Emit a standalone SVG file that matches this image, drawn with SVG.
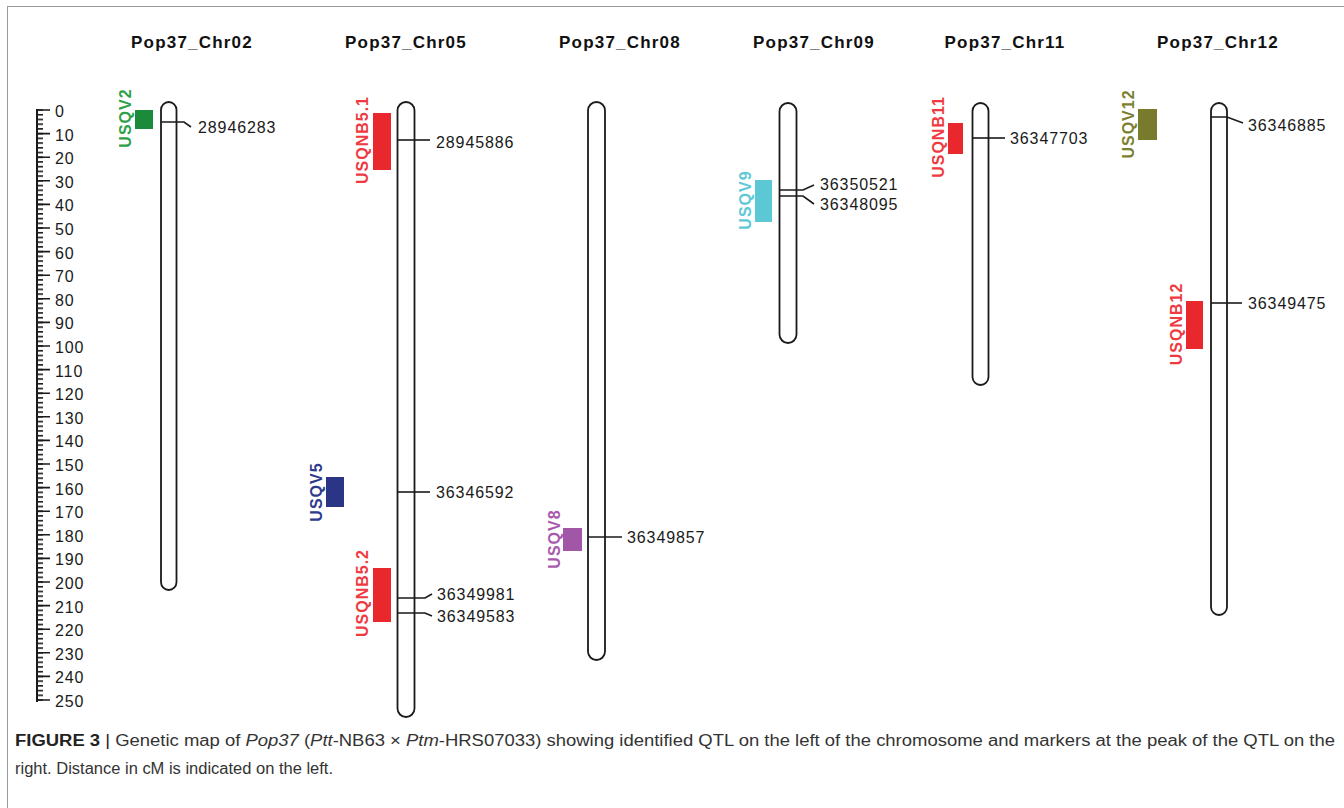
<svg xmlns="http://www.w3.org/2000/svg" width="1344" height="808" viewBox="0 0 1344 808">
<style>
.title{font-family:"Liberation Sans",Arial,sans-serif;font-size:17px;font-weight:bold;fill:#111;letter-spacing:1.2px;text-anchor:middle}
.num{font-family:"Liberation Sans",Arial,sans-serif;font-size:16px;fill:#1a1a1a;letter-spacing:0.9px}
.chr{fill:none;stroke:#1a1a1a;stroke-width:1.8}
.lnk{fill:none;stroke:#1a1a1a;stroke-width:1.6}
.qlab{font-family:"Liberation Sans",Arial,sans-serif;font-size:16px;font-weight:bold;letter-spacing:1px;text-anchor:middle}
.cap{font-family:"Liberation Sans Narrow","Liberation Sans",Arial,sans-serif;font-size:16px;fill:#333}
</style>
<defs>
<pattern id="minor" patternUnits="userSpaceOnUse" x="0" y="109.2" width="10" height="4.72">
<rect x="0" y="0" width="10" height="1.6" fill="#1a1a1a"/>
</pattern>
</defs>
<rect width="1344" height="808" fill="#fff"/>
<rect x="7.5" y="6.5" width="1345" height="820" fill="none" stroke="#9a9a9a" stroke-width="1"/>

<g id="scale">
<line x1="37" y1="109" x2="37" y2="702" stroke="#1a1a1a" stroke-width="2"/>
<rect x="37" y="109.2" width="6" height="592" fill="url(#minor)"/>
<path d="M37 110H50M37 133.6H50M37 157.2H50M37 180.8H50M37 204.4H50M37 228H50M37 251.6H50M37 275.2H50M37 298.8H50M37 322.4H50M37 346H50M37 369.6H50M37 393.2H50M37 416.8H50M37 440.4H50M37 464H50M37 487.6H50M37 511.2H50M37 534.8H50M37 558.4H50M37 582H50M37 605.6H50M37 629.2H50M37 652.8H50M37 676.4H50M37 700H50" stroke="#1a1a1a" stroke-width="1.6"/>
<g class="num">
<text x="55" y="117">0</text>
<text x="55" y="140.6">10</text>
<text x="55" y="164.2">20</text>
<text x="55" y="187.8">30</text>
<text x="55" y="211.4">40</text>
<text x="55" y="235">50</text>
<text x="55" y="258.6">60</text>
<text x="55" y="282.2">70</text>
<text x="55" y="305.8">80</text>
<text x="55" y="329.4">90</text>
<text x="55" y="353">100</text>
<text x="55" y="376.6">110</text>
<text x="55" y="400.2">120</text>
<text x="55" y="423.8">130</text>
<text x="55" y="447.4">140</text>
<text x="55" y="471">150</text>
<text x="55" y="494.6">160</text>
<text x="55" y="518.2">170</text>
<text x="55" y="541.8">180</text>
<text x="55" y="565.4">190</text>
<text x="55" y="589">200</text>
<text x="55" y="612.6">210</text>
<text x="55" y="636.2">220</text>
<text x="55" y="659.8">230</text>
<text x="55" y="683.4">240</text>
<text x="55" y="707">250</text>
</g>
</g>

<g id="titles" class="title">
<text x="192" y="48">Pop37_Chr02</text>
<text x="406" y="48">Pop37_Chr05</text>
<text x="620" y="48">Pop37_Chr08</text>
<text x="814" y="48">Pop37_Chr09</text>
<text x="1005" y="48">Pop37_Chr11</text>
<text x="1218" y="48">Pop37_Chr12</text>
</g>

<g id="chr02">
<rect class="chr" x="161" y="102" width="15.5" height="488" rx="7.75"/>
<rect x="135" y="110" width="18" height="19" fill="#1b8a3b"/>
<text class="qlab" fill="#2ea04a" transform="translate(131 118) rotate(-90)">USQV2</text>
<text class="num" x="198" y="133">28946283</text>
</g>

<g id="chr05">
<rect class="chr" x="397.5" y="102" width="17" height="615" rx="8.5"/>
<rect x="373" y="113" width="18" height="57" fill="#e8282d"/>
<text class="qlab" fill="#ee3a40" transform="translate(368 140) rotate(-90)">USQNB5.1</text>
<rect x="326" y="477" width="18" height="30" fill="#2a3585"/>
<text class="qlab" fill="#2e3a8c" transform="translate(322 492) rotate(-90)">USQV5</text>
<rect x="373" y="568" width="18" height="54" fill="#e8282d"/>
<text class="qlab" fill="#ee3a40" transform="translate(368 593) rotate(-90)">USQNB5.2</text>
<text class="num" x="436" y="148">28945886</text>
<text class="num" x="436" y="498">36346592</text>
<text class="num" x="437" y="600">36349981</text>
<text class="num" x="437" y="622">36349583</text>
</g>

<g id="chr08">
<rect class="chr" x="588" y="102" width="17" height="558" rx="8.5"/>
<rect x="563" y="528" width="19" height="23" fill="#a156a8"/>
<text class="qlab" fill="#a95aac" transform="translate(560 539) rotate(-90)">USQV8</text>
<text class="num" x="627" y="543">36349857</text>
</g>

<g id="chr09">
<rect class="chr" x="779.5" y="103" width="17" height="240" rx="8.5"/>
<rect x="755" y="180" width="17" height="42" fill="#5cc7d5"/>
<text class="qlab" fill="#5ec8d6" transform="translate(751 200) rotate(-90)">USQV9</text>
<text class="num" x="820" y="190">36350521</text>
<text class="num" x="820" y="210">36348095</text>
</g>

<g id="chr11">
<rect class="chr" x="972.5" y="103" width="16" height="282" rx="8"/>
<rect x="948" y="123" width="15" height="31" fill="#e8282d"/>
<text class="qlab" fill="#ee3a40" transform="translate(944 137) rotate(-90)">USQNB11</text>
<text class="num" x="1010" y="144">36347703</text>
</g>

<g id="chr12">
<rect class="chr" x="1211" y="103" width="16" height="512" rx="8"/>
<rect x="1138" y="109" width="19" height="31" fill="#787a2c"/>
<text class="qlab" fill="#7d7f30" transform="translate(1134 124) rotate(-90)">USQV12</text>
<rect x="1186" y="301" width="17" height="48" fill="#e8282d"/>
<text class="qlab" fill="#ee3a40" transform="translate(1182 324) rotate(-90)">USQNB12</text>
<text class="num" x="1248" y="131">36346885</text>
<text class="num" x="1248" y="309">36349475</text>
</g>

<g id="connectors" class="lnk">
<path d="M161 122H184L191 127"/>
<path d="M398 140H430"/>
<path d="M398 492H430"/>
<path d="M398 598H425L432 594"/>
<path d="M398 613H425L432 616"/>
<path d="M588 537H622"/>
<path d="M779 190H803L814 185"/>
<path d="M779 196H803L814 204"/>
<path d="M973 138H1005"/>
<path d="M1211 117H1227L1243 123"/>
<path d="M1211 303H1242"/>
</g>

<g id="caption" class="cap">
<text x="15" y="746" textLength="1320" lengthAdjust="spacingAndGlyphs"><tspan font-weight="bold" fill="#222">FIGURE 3</tspan> <tspan fill="#222">|</tspan> Genetic map of <tspan font-style="italic">Pop37</tspan> (<tspan font-style="italic">Ptt</tspan>-NB63 × <tspan font-style="italic">Ptm</tspan>-HRS07033) showing identified QTL on the left of the chromosome and markers at the peak of the QTL on the</text>
<text x="15" y="774" textLength="318" lengthAdjust="spacingAndGlyphs">right. Distance in cM is indicated on the left.</text>
</g>
</svg>
